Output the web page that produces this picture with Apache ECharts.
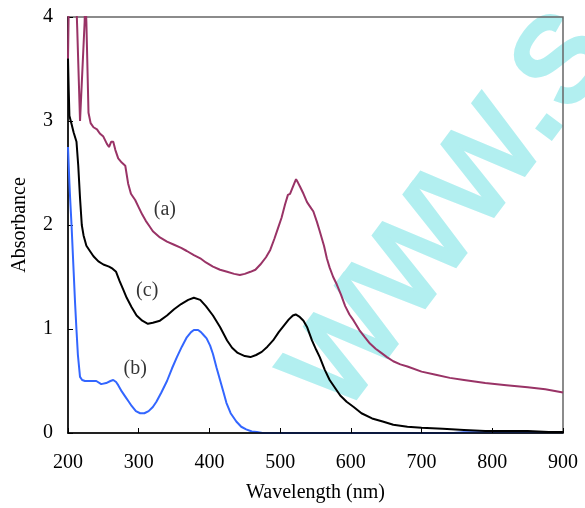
<!DOCTYPE html>
<html>
<head>
<meta charset="utf-8">
<script src="https://cdn.jsdelivr.net/npm/echarts@6/dist/echarts.min.js"></script>
<style>html,body{margin:0;padding:0;background:#fff}#c{width:585px;height:508px}</style>
</head>
<body>
<div id="c"></div>
<script>
// Tick values
var xTicks = [200, 300, 400, 500, 600, 700, 800, 900];
var yTicks = [0, 1, 2, 3, 4];

// Curve (a) : wavelength (nm), absorbance
var curveA = [
[200,3.6],[201.5,4.3],[211,4.3],[213,3.9],[217,3.0],[219,3.0],[223.5,3.95],[224.5,4.2],[226,3.95],[229,3.08],
[232,2.98],[236,2.94],[241,2.92],[245,2.88],[250,2.85],[255,2.78],[258,2.75],[261,2.80],[264,2.80],[267,2.72],
[271,2.64],[276,2.60],[281,2.57],[285,2.40],[289,2.30],[295,2.24],[300,2.17],[305,2.10],[310,2.04],[315,1.99],
[320,1.94],[330,1.88],[340,1.84],[350,1.81],[360,1.78],[368,1.75],[378,1.71],[387,1.68],[395,1.64],[405,1.60],
[415,1.57],[425,1.55],[435,1.53],[443,1.52],[450,1.53],[458,1.55],[465,1.57],[472,1.62],[480,1.69],[486,1.76],
[492,1.87],[497,1.97],[502,2.07],[507,2.20],[511,2.29],[514,2.30],[517,2.35],[520,2.40],[522.5,2.44],[525,2.41],
[528,2.37],[533,2.30],[538,2.22],[543,2.17],[547,2.13],[552,2.03],[556,1.94],[562,1.80],[566,1.68],[570,1.59],
[575,1.50],[580,1.43],[586,1.33],[592,1.22],[598,1.14],[604,1.08],[612,0.99],[620,0.92],[627,0.86],[635,0.81],
[643,0.77],[651,0.73],[660,0.69],[670,0.66],[680,0.64],[700,0.59],[720,0.56],[740,0.53],[760,0.51],[790,0.48],
[820,0.46],[850,0.44],[875,0.42],[900,0.39]
];

// Curve (c)
var curveC = [
[200,3.6],[201,3.3],[202,3.05],[205,2.97],[208,2.89],[212,2.80],[214.5,2.57],[217,2.26],[219.5,2.0],[222,1.90],
[226,1.80],[230,1.76],[236,1.70],[243,1.65],[250,1.62],[258,1.60],[263,1.58],[268,1.55],[273,1.46],[278,1.38],
[283,1.30],[290,1.21],[297,1.13],[305,1.08],[313,1.05],[320,1.06],[330,1.08],[340,1.13],[350,1.19],[360,1.24],
[370,1.28],[378,1.30],[387,1.28],[395,1.22],[405,1.13],[415,1.02],[425,0.89],[432,0.82],[440,0.77],[450,0.74],
[458,0.73],[466,0.75],[474,0.78],[482,0.83],[490,0.89],[498,0.97],[505,1.03],[512,1.09],[518,1.13],[522,1.14],
[527,1.12],[533,1.08],[538,1.02],[545,0.89],[551,0.80],[556,0.73],[563,0.61],[570,0.51],[577,0.44],[585,0.36],
[594,0.30],[604,0.25],[615,0.19],[630,0.14],[645,0.11],[660,0.08],[680,0.06],[700,0.05],[730,0.04],[760,0.03],
[790,0.02],[820,0.02],[850,0.02],[880,0.01],[900,0.01]
];

// Curve (b)
var curveB = [
[200,2.75],[202,2.4],[203,2.26],[205,2.0],[208,1.55],[210,1.25],[212,0.99],[214,0.75],[217,0.54],[220,0.51],
[224,0.50],[232,0.50],[240,0.50],[247,0.47],[254,0.48],[260,0.50],[264,0.51],[268,0.49],[271,0.46],[276,0.40],
[281,0.35],[286,0.30],[290,0.26],[296,0.21],[302,0.19],[308,0.19],[314,0.21],[320,0.25],[325,0.30],[332,0.39],
[340,0.50],[347,0.62],[354,0.73],[361,0.83],[368,0.92],[374,0.97],[378,0.99],[384,0.99],[388,0.97],[392,0.94],
[396,0.91],[401,0.84],[405,0.76],[410,0.63],[415,0.51],[420,0.39],[424,0.29],[430,0.19],[438,0.11],[445,0.06],
[452,0.035],[460,0.015],[467,0.01],[475,0],[600,0],[745,0],[760,0.008],[900,0.008]
];

// Curve labels: [wavelength, absorbance, text]
var curveLabels = [[337,2.15,'(a)'],[312,1.37,'(c)'],[295,0.62,'(b)']];

var serif = '"Liberation Serif","Times New Roman",serif';
var chart = echarts.init(document.getElementById('c'), null, {renderer:'canvas'});

// watermark placement (rotated text)
var wmAngle = 53 * Math.PI / 180;
var wmSize = 158;
var wmOx = 351, wmOy = 423; // baseline start
var midOff = 0.3465 * wmSize;
var wmX = wmOx - midOff * Math.sin(wmAngle);
var wmY = wmOy - midOff * Math.cos(wmAngle);

chart.setOption({
  animation:false,
  backgroundColor:'#fff',
  grid:{left:68,right:22,top:17,bottom:71,show:true,borderColor:'#666',borderWidth:1.5,backgroundColor:'transparent'},
  xAxis:{type:'value',min:xTicks[0],max:xTicks[xTicks.length-1],interval:100,z:10,
    name:'Wavelength (nm)',nameLocation:'middle',nameGap:50,
    nameTextStyle:{fontFamily:serif,fontSize:20,color:'#000'},
    axisLine:{lineStyle:{color:'#000',width:1.5}},
    axisTick:{inside:true,length:5,lineStyle:{color:'#000',width:1}},
    axisLabel:{fontFamily:serif,fontSize:20,color:'#000',margin:20},
    splitLine:{show:false}},
  yAxis:{type:'value',min:yTicks[0],max:yTicks[yTicks.length-1],interval:1,
    name:'Absorbance',nameLocation:'middle',nameGap:38,
    nameTextStyle:{fontFamily:serif,fontSize:20,color:'#000'},
    axisLine:{lineStyle:{color:'#000',width:1.5}},
    axisTick:{inside:true,length:5,lineStyle:{color:'#000',width:1}},
    axisLabel:{fontFamily:serif,fontSize:20,color:'#000',margin:15},
    splitLine:{show:false}},
  series:[
    {type:'line',name:'(b)',data:curveB,showSymbol:false,symbol:'none',lineStyle:{color:'#3366FF',width:2},z:3},
    {type:'line',name:'(c)',data:curveC,showSymbol:false,symbol:'none',lineStyle:{color:'#000000',width:2},z:4},
    {type:'line',name:'(a)',data:curveA,showSymbol:false,symbol:'none',lineStyle:{color:'#993366',width:2},z:5},
    {type:'scatter',data:curveLabels.map(function(d){return {value:[d[0],d[1]],name:d[2]};}),
      symbolSize:1,itemStyle:{color:'rgba(0,0,0,0)'},z:6,
      label:{show:true,position:'inside',formatter:function(p){return p.name;},fontFamily:serif,fontSize:20,color:'#000'}}
  ],
  graphic:[{type:'text',x:wmX,y:wmY,rotation:wmAngle,z:-10,zlevel:0,silent:true,
    style:{text:'www.s',font:wmSize+'px "Liberation Sans", Arial, sans-serif',fill:'rgb(178,239,240)',
      stroke:'rgb(178,239,240)',lineWidth:4,align:'left',verticalAlign:'middle'}}]
});
</script>
</body>
</html>
